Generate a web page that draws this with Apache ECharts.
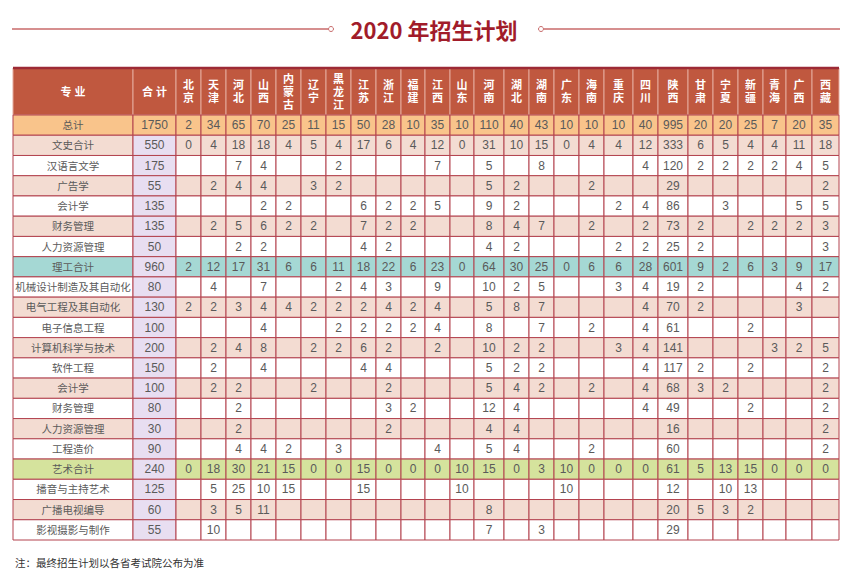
<!DOCTYPE html>
<html><head><meta charset="utf-8">
<script src="https://cdn.jsdelivr.net/npm/echarts@6/dist/echarts.min.js"></script>
<style>html,body{margin:0;padding:0;background:#fff}#c{width:848px;height:575px}</style>
</head><body><div id="c"></div>
<script>
const _ = null;
const titleText = '2020 年招生计划';
const noteText = '注：最终招生计划以各省考试院公布为准';
const headMajor = '专 业';
const headTotal = '合 计';
const provinces = ['北京','天津','河北','山西','内蒙古','辽宁','黑龙江','江苏','浙江','福建','江西','山东','河南','湖北','湖南','广东','海南','重庆','四川','陕西','甘肃','宁夏','新疆','青海','广西','西藏'];
const majors = ['总计','文史合计','汉语言文学','广告学','会计学','财务管理','人力资源管理','理工合计','机械设计制造及其自动化','电气工程及其自动化','电子信息工程','计算机科学与技术','软件工程','会计学','财务管理','人力资源管理','工程造价','艺术合计','播音与主持艺术','广播电视编导','影视摄影与制作'];
const totals = [1750,550,175,55,135,135,50,960,80,130,100,200,150,100,80,30,90,240,125,60,55];

const grandTotal  = [2,34,65,70,25,11,15,50,28,10,35,10,110,40,43,10,10,10,40,995,20,20,25,7,20,35];
const wenshiTotal = [0,4,18,18,4,5,4,17,6,4,12,0,31,10,15,0,4,4,12,333,6,5,4,4,11,18];
const hanyu       = [_,_,7,4,_,_,2,_,_,_,7,_,5,_,8,_,_,_,4,120,2,2,2,2,4,5];
const guanggao    = [_,2,4,4,_,3,2,_,_,_,_,_,5,2,_,_,2,_,_,29,_,_,_,_,_,2];
const kuaijiWs    = [_,_,_,2,2,_,_,6,2,2,5,_,9,2,_,_,_,2,4,86,_,3,_,_,5,5];
const caiwuWs     = [_,2,5,6,2,2,_,7,2,2,_,_,8,4,7,_,2,_,2,73,2,_,2,2,2,3];
const renliWs     = [_,_,2,2,_,_,_,4,2,_,_,_,4,2,_,_,_,2,2,25,2,_,_,_,_,3];
const ligongTotal = [2,12,17,31,6,6,11,18,22,6,23,0,64,30,25,0,6,6,28,601,9,2,6,3,9,17];
const jixie       = [_,4,_,7,_,_,2,4,3,_,9,_,10,2,5,_,_,3,4,19,2,_,_,_,4,2];
const dianqi      = [2,2,3,4,4,2,2,2,4,2,4,_,5,8,7,_,_,_,4,70,2,_,_,_,3,_];
const dianzi      = [_,_,_,4,_,_,2,2,2,2,4,_,8,_,7,_,2,_,4,61,_,_,2,_,_,_];
const jisuanji    = [_,2,4,8,_,2,2,6,2,_,2,_,10,2,2,_,_,3,4,141,_,_,_,3,2,5];
const ruanjian    = [_,2,_,4,_,_,_,4,4,_,_,_,5,2,2,_,_,_,4,117,2,_,2,_,_,2];
const kuaijiLg    = [_,2,2,_,_,2,_,_,2,_,_,_,5,4,2,_,2,_,4,68,3,2,_,_,_,2];
const caiwuLg     = [_,_,2,_,_,_,_,_,3,2,_,_,12,4,_,_,_,_,4,49,_,_,2,_,_,2];
const renliLg     = [_,_,2,_,_,_,_,_,2,_,_,_,4,4,_,_,_,_,_,16,_,_,_,_,_,2];
const gongcheng   = [_,_,4,4,2,_,3,_,_,_,4,_,5,4,_,_,2,_,_,60,_,_,_,_,_,2];
const yishuTotal  = [0,18,30,21,15,0,0,15,0,0,0,10,15,0,3,10,0,0,0,61,5,13,15,0,0,0];
const boyin       = [_,5,25,10,15,_,_,15,_,_,_,10,_,_,_,10,_,_,_,12,_,10,13,_,_,_];
const guangbo     = [_,3,5,11,_,_,_,_,_,_,_,_,8,_,_,_,_,_,_,20,5,3,2,_,_,_];
const yingshi     = [_,10,_,_,_,_,_,_,_,_,_,_,7,_,3,_,_,_,_,29,_,_,_,_,_,_];

const rowValues = [grandTotal,wenshiTotal,hanyu,guanggao,kuaijiWs,caiwuWs,renliWs,ligongTotal,jixie,dianqi,dianzi,jisuanji,ruanjian,kuaijiLg,caiwuLg,renliLg,gongcheng,yishuTotal,boyin,guangbo,yingshi];

// ---- layout / style (not data) ----
const colWidths = [120,43,25,25,25,25,25,25,25,25,25,24,25,24,30,25,25,25,25,29,25,30,25,25,25,23,26,27];
const edges = [0];
colWidths.forEach(w => edges.push(edges[edges.length-1] + w));
const tableW = edges[edges.length-1];
const rowKind = ['total','pink','white','pink','white','pink','white','teal','white','pink','white','pink','white','pink','white','pink','white','green','white','pink','white'];
const kindFill = {total:'#f9c48b', pink:'#f3dcd2', white:'#ffffff', teal:'#a5d8d4', green:'#d5e39d'};
const lavender = '#e8def1';
const FONT = '"Liberation Sans","Noto Sans CJK SC",sans-serif';

const bodyData = [], bodyText = [], bodyFill = [], bodySize = [];
majors.forEach((m, r) => {
  for (let c = 0; c < colWidths.length; c++) {
    let t;
    if (c === 0) t = m;
    else if (c === 1) t = String(totals[r]);
    else { const v = rowValues[r][c-2]; t = v === null ? '' : String(v); }
    bodyData.push([edges[c], edges[c+1], r]);
    bodyText.push(t);
    bodySize.push(c === 0 ? 10.5 : 12);
    bodyFill.push(c === 1 && r > 0 ? lavender : kindFill[rowKind[r]]);
  }
});
const headLabels = [headMajor, headTotal].concat(provinces.map(p => p.split('').join('\n')));
const headData = headLabels.map((t, c) => [edges[c], edges[c+1], 0]);

function cellRenderer(texts, fills, sizes, opts) {
  return function (params, api) {
    const i = params.dataIndex;
    const p0 = api.coord([api.value(0), api.value(2) - 0.5]);
    const p1 = api.coord([api.value(1), api.value(2) + 0.5]);
    const x = Math.min(p0[0], p1[0]), y = Math.min(p0[1], p1[1]);
    const w = Math.abs(p1[0]-p0[0]), h = Math.abs(p1[1]-p0[1]);
    return {
      type: 'group',
      children: [
        {type:'rect', shape:{x:x, y:y, width:w, height:h},
         style:{fill: fills ? fills[i] : opts.fill, stroke: opts.stroke, lineWidth: 1}},
        {type:'text', style:{text: texts[i], x: x + w/2, y: y + h/2, align:'center', verticalAlign:'middle',
          fill: opts.color, fontSize: sizes ? sizes[i] : opts.size, fontWeight: opts.weight, fontFamily: FONT, lineHeight: opts.lh}}
      ]
    };
  };
}

const chart = echarts.init(document.getElementById('c'), null, {renderer:'svg'});
chart.setOption({
  animation: false,
  backgroundColor: '#fff',
  grid: [
    {left: 13, top: 68, width: tableW, height: 47},
    {left: 13, top: 115, width: tableW, height: 425}
  ],
  xAxis: [
    {gridIndex:0, type:'value', min:0, max:tableW, show:false},
    {gridIndex:1, type:'value', min:0, max:tableW, show:false}
  ],
  yAxis: [
    {gridIndex:0, type:'value', min:-0.5, max:0.5, inverse:true, show:false},
    {gridIndex:1, type:'value', min:-0.5, max:majors.length-0.5, inverse:true, show:false}
  ],
  series: [
    {type:'custom', xAxisIndex:0, yAxisIndex:0, data: headData, encode:{x:[0,1], y:2},
     renderItem: cellRenderer(headLabels, null, null, {fill:'#c0583f', stroke:'#e4a99b', color:'#ffffff', size:11, weight:'bold', lh:13})},
    {type:'custom', xAxisIndex:1, yAxisIndex:1, data: bodyData, encode:{x:[0,1], y:2},
     renderItem: cellRenderer(bodyText, bodyFill, bodySize, {stroke:'#b3434f', color:'#5a5a5a', weight:'normal', lh:14})}
  ],
  graphic: [
    {type:'line', shape:{x1:12, y1:29, x2:328, y2:29}, style:{stroke:'#c86a6a', lineWidth:1.5}},
    {type:'circle', shape:{cx:331, cy:29, r:2.5}, style:{fill:'#fff', stroke:'#c86a6a', lineWidth:1}},
    {type:'circle', shape:{cx:541, cy:29, r:2.5}, style:{fill:'#fff', stroke:'#c86a6a', lineWidth:1}},
    {type:'line', shape:{x1:544, y1:29, x2:840, y2:29}, style:{stroke:'#c86a6a', lineWidth:1.5}},
    {type:'text', x:434, y:29, style:{text:titleText, align:'center', verticalAlign:'middle', fill:'#a11c2a', fontSize:22, fontWeight:'bold', fontFamily:'"Noto Sans CJK SC",sans-serif'}},
    {type:'line', shape:{x1:13, y1:68, x2:13+tableW, y2:68}, style:{stroke:'#9d2a35', lineWidth:2.5}, z:100},
    {type:'text', x:15, y:562, style:{text:noteText, align:'left', verticalAlign:'middle', fill:'#333', fontSize:10.5, fontFamily:'"Noto Sans CJK SC",sans-serif'}}
  ]
});
</script>
</body></html>
